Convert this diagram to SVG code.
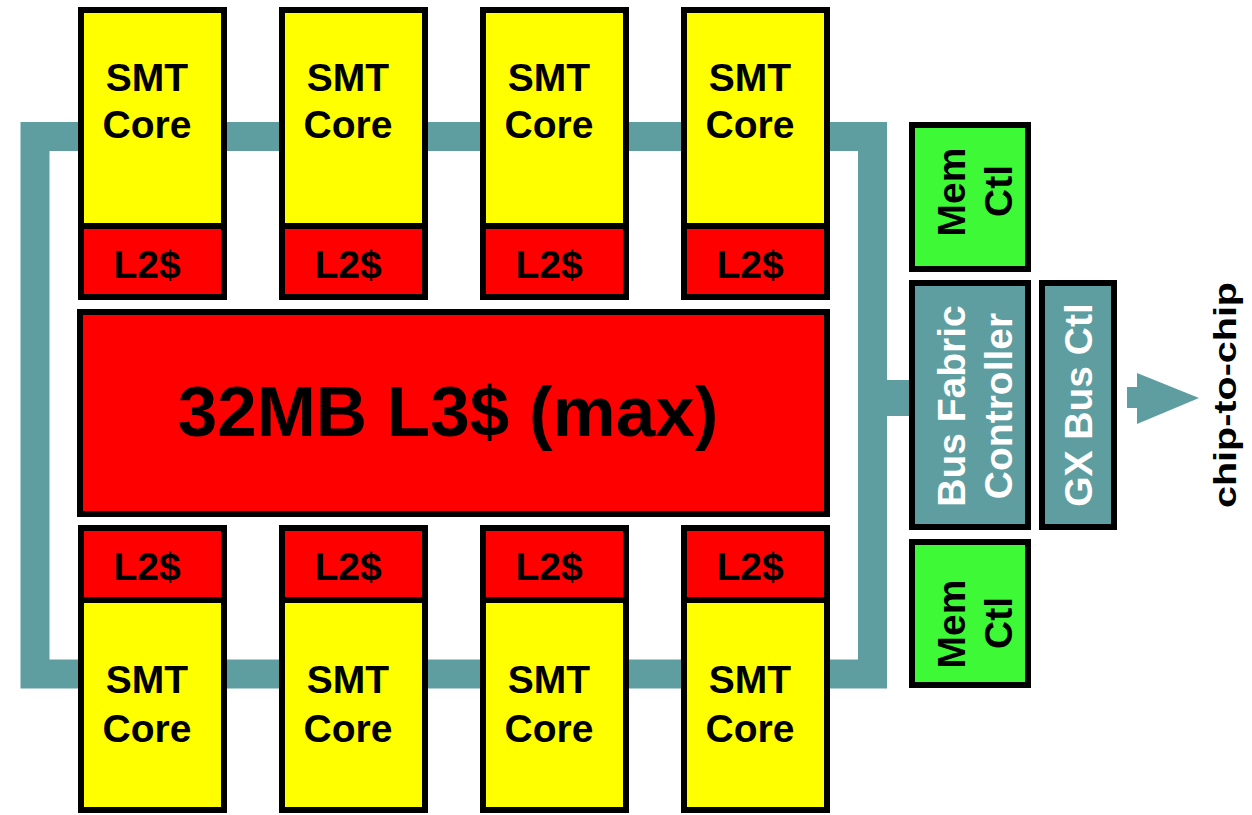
<svg xmlns="http://www.w3.org/2000/svg" width="1252" height="815" viewBox="0 0 1252 815">
<style>
text{font-family:"Liberation Sans",Arial,Helvetica,sans-serif;font-weight:bold;font-size:39px;text-anchor:middle;fill:#000}
.box{stroke:#000;stroke-width:6}
.core{fill:#ffff00}
.red{fill:#ff0000}
.green{fill:#3ef936}
.teal{fill:#5f9ea0}
.w{fill:#ffffff}
</style>
<rect width="1252" height="815" fill="#ffffff"/>
<g id="connectors">
<rect x="35" y="136.5" width="837.5" height="537.5" fill="none" stroke="#5f9ea0" stroke-width="29"/>
<rect x="858" y="380" width="54" height="36" fill="#5f9ea0"/>
<rect x="1127" y="387" width="10" height="21" fill="#5f9ea0"/>
<polygon points="1137,373 1199,398 1137,424" fill="#5f9ea0"/>
</g>
<g id="core-top-1"><rect class="box core" x="81" y="10" width="143" height="216"/><text x="147" y="91">SMT</text><text x="147" y="138">Core</text></g>
<g id="l2-top-1"><rect class="box red" x="81" y="226" width="143" height="71"/><text x="147" y="278">L2$</text></g>
<g id="core-top-2"><rect class="box core" x="282" y="10" width="143" height="216"/><text x="348" y="91">SMT</text><text x="348" y="138">Core</text></g>
<g id="l2-top-2"><rect class="box red" x="282" y="226" width="143" height="71"/><text x="348" y="278">L2$</text></g>
<g id="core-top-3"><rect class="box core" x="483" y="10" width="143" height="216"/><text x="549" y="91">SMT</text><text x="549" y="138">Core</text></g>
<g id="l2-top-3"><rect class="box red" x="483" y="226" width="143" height="71"/><text x="549" y="278">L2$</text></g>
<g id="core-top-4"><rect class="box core" x="684" y="10" width="143" height="216"/><text x="750" y="91">SMT</text><text x="750" y="138">Core</text></g>
<g id="l2-top-4"><rect class="box red" x="684" y="226" width="143" height="71"/><text x="750" y="278">L2$</text></g>
<g id="l3"><rect class="box red" x="80" y="312" width="747" height="202"/><text x="448" y="436" style="font-size:71px">32MB L3$ (max)</text></g>
<g id="l2-bot-1"><rect class="box red" x="81" y="528" width="143" height="72"/><text x="147" y="580">L2$</text></g>
<g id="core-bot-1"><rect class="box core" x="81" y="600" width="143" height="210"/><text x="147" y="693">SMT</text><text x="147" y="742">Core</text></g>
<g id="l2-bot-2"><rect class="box red" x="282" y="528" width="143" height="72"/><text x="348" y="580">L2$</text></g>
<g id="core-bot-2"><rect class="box core" x="282" y="600" width="143" height="210"/><text x="348" y="693">SMT</text><text x="348" y="742">Core</text></g>
<g id="l2-bot-3"><rect class="box red" x="483" y="528" width="143" height="72"/><text x="549" y="580">L2$</text></g>
<g id="core-bot-3"><rect class="box core" x="483" y="600" width="143" height="210"/><text x="549" y="693">SMT</text><text x="549" y="742">Core</text></g>
<g id="l2-bot-4"><rect class="box red" x="684" y="528" width="143" height="72"/><text x="750" y="580">L2$</text></g>
<g id="core-bot-4"><rect class="box core" x="684" y="600" width="143" height="210"/><text x="750" y="693">SMT</text><text x="750" y="742">Core</text></g>
<g id="memctl-top"><rect class="box green" x="912" y="125" width="116" height="144"/><text transform="translate(965,192) rotate(-90)">Mem</text><text transform="translate(1012,191) rotate(-90)">Ctl</text></g>
<g id="bus-fabric"><rect class="box teal" x="912" y="283" width="116" height="244"/><text class="w" transform="translate(965,406) rotate(-90)">Bus Fabric</text><text class="w" transform="translate(1012,406) rotate(-90)">Controller</text></g>
<g id="gx-bus"><rect class="box teal" x="1042" y="283" width="72" height="244"/><text class="w" transform="translate(1092,405) rotate(-90)">GX Bus Ctl</text></g>
<g id="memctl-bot"><rect class="box green" x="912" y="542" width="116" height="143"/><text transform="translate(965,624) rotate(-90)">Mem</text><text transform="translate(1012,623) rotate(-90)">Ctl</text></g>
<g id="chip-label"><text transform="translate(1236,395) rotate(-90)" style="font-size:32px" textLength="226" lengthAdjust="spacingAndGlyphs">chip-to-chip</text></g>
</svg>
